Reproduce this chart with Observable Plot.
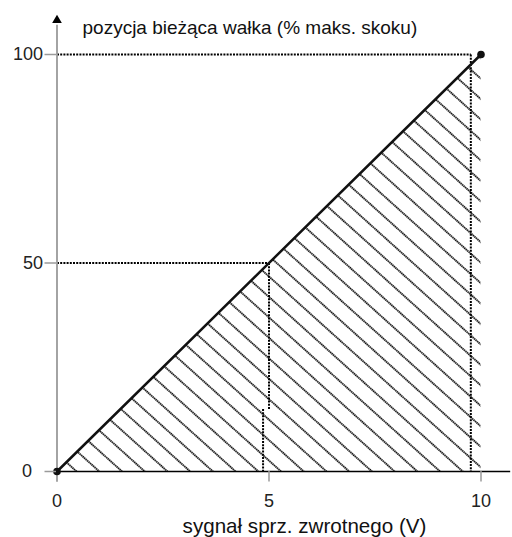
<!DOCTYPE html>
<html>
<head>
<meta charset="utf-8">
<script src="https://cdn.jsdelivr.net/npm/d3@7"></script>
<script src="https://cdn.jsdelivr.net/npm/@observablehq/plot@0.6"></script>
<style>
  html, body { margin: 0; padding: 0; background: #fff; }
</style>
</head>
<body>
<div id="chart"></div>
<script>
// ---- data ----
const lineX = [0, 10];            // feedback signal (V)
const lineY = [0, 100];           // shaft position (% of max stroke)
const yTicks = [50, 100];
const yTickZero = [0];
const xTicks = [5, 10];
const xTickZero = [0];
// dotted reference segments
const refX1 = [0,    9.76, 0,   5.0,  4.86];
const refY1 = [100,  100,  50,  50,   15];
const refX2 = [9.76, 9.76, 5.0, 5.0,  4.86];
const refY2 = [100,  0,    50,  15,   0];
// axis extents
const xAxisExtent = [0, 10.7];
const yAxisExtent = [-2.6, 107];
const yArrowAt = [108.2];
const titleText = ["pozycja bieżąca wałka (% maks. skoku)"];
const xLabelText = ["sygnał sprz. zwrotnego (V)"];

const lineData = lineX.map((x, i) => ({x, y: lineY[i]}));
const refData = refX1.map((x1, i) => ({x1, y1: refY1[i], x2: refX2[i], y2: refY2[i]}));

const font = "'Liberation Sans', Arial, Helvetica, sans-serif";

const chart = Plot.plot({
  width: 512,
  height: 537,
  marginLeft: 56,
  marginRight: 32,
  marginTop: 54,
  marginBottom: 66,
  style: {fontFamily: font, background: "#fff", overflow: "visible"},
  x: {domain: [0, 10], range: [56.5, 480.5]},
  y: {domain: [0, 100], range: [471, 54]},
  marks: [
    // hatched region under the line
    Plot.areaY(lineData, {x: "x", y: "y", fill: "url(#hatch)"}),
    // dotted reference lines
    Plot.link(refData, {x1: "x1", y1: "y1", x2: "x2", y2: "y2",
      stroke: "#000", strokeWidth: 2, strokeDasharray: "2 1.2"}),
    // y axis line (gray) with arrow
    Plot.ruleX([0], {y1: yAxisExtent[0], y2: yAxisExtent[1], stroke: "#9a9a9a", strokeWidth: 1.8}),
    Plot.dot(yArrowAt, {x: 0, y: d => d, symbol: "triangle", r: 3.6, fill: "#000", stroke: "none"}),
    // x axis line (black)
    Plot.ruleY([0], {x1: xAxisExtent[0], x2: xAxisExtent[1], stroke: "#000", strokeWidth: 1.6}),
    // characteristic line
    Plot.line(lineData, {x: "x", y: "y", stroke: "#111", strokeWidth: 2.5}),
    Plot.dot(lineData, {x: "x", y: "y", r: 3.8, fill: "#111", stroke: "none"}),
    // axes
    Plot.axisY(yTicks, {tickSize: 11.5, tickPadding: 2, stroke: "#9a9a9a", strokeWidth: 1.5,
      fontSize: 18, fill: "#222", label: null}),
    Plot.axisY(yTickZero, {tickSize: 11.5, tickPadding: 13, stroke: "#9a9a9a", strokeWidth: 1.5,
      fontSize: 18, fill: "#222", label: null}),
    Plot.axisX(xTicks, {tickSize: 10.5, tickPadding: 12, stroke: "#9a9a9a", strokeWidth: 1.5,
      fontSize: 18, fill: "#222", label: null}),
    Plot.axisX(xTickZero, {tickSize: 0, tickPadding: 22.5, stroke: "none",
      fontSize: 18, fill: "#222", label: null}),
    // titles
    Plot.text(titleText, {text: d => d, frameAnchor: "top-left", dx: 26, dy: -21,
      lineAnchor: "bottom", textAnchor: "start", fontSize: 19, fill: "#111"}),
    Plot.text(xLabelText, {text: d => d, frameAnchor: "bottom", dx: 36, dy: 61,
      lineAnchor: "bottom", textAnchor: "middle", fontSize: 20.6, fill: "#111"})
  ]
});

const svgNS = "http://www.w3.org/2000/svg";
const defs = document.createElementNS(svgNS, "defs");
defs.innerHTML = '<pattern id="hatch" patternUnits="userSpaceOnUse" width="20" height="15.2" patternTransform="rotate(42) translate(0,2.7)">' +
  '<path d="M-1,7.6H21" stroke="#111" stroke-width="2" stroke-dasharray="1.4 0.6"/></pattern>';
chart.insertBefore(defs, chart.firstChild);

document.getElementById("chart").appendChild(chart);
</script>
</body>
</html>
